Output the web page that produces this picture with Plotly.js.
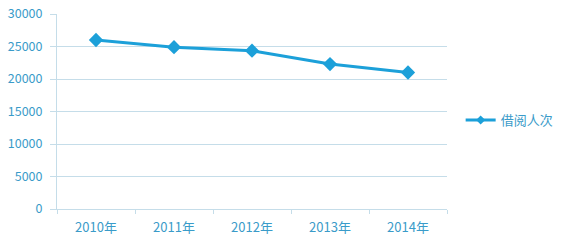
<!DOCTYPE html>
<html><head><meta charset="utf-8">
<script src="https://cdn.plot.ly/plotly-3.0.1.min.js"></script>
<style>html,body{margin:0;padding:0;background:#fff;}#chart{width:563px;height:240px;}</style>
</head><body><div id="chart"></div>
<script>
const categories = ["2010年","2011年","2012年","2013年","2014年"];
const borrowCounts = [26000, 24900, 24350, 22300, 21000];
const seriesName = "借阅人次";
const yTicks = [0,5000,10000,15000,20000,25000,30000];

const lineColor = "#1ca0d9";
const textColor = "#3a9bc9";
const gridColor = "#c5dde9";
const fontFam = "'Noto Sans CJK SC', 'Open Sans', sans-serif";

Plotly.newPlot("chart", [{
  x: categories, y: borrowCounts, name: seriesName, type: "scatter", mode: "lines+markers",
  line: {color: lineColor, width: 3},
  marker: {symbol: "diamond", size: 11, color: lineColor},
  showlegend: false
}, {
  x: [null], y: [null], name: seriesName, type: "scatter", mode: "lines+markers",
  line: {color: lineColor, width: 3},
  marker: {symbol: "diamond", size: 7, color: lineColor},
  showlegend: true
}], {
  width: 563, height: 240,
  margin: {l: 57, r: 116, t: 14, b: 31, autoexpand: false},
  paper_bgcolor: "#fff", plot_bgcolor: "#fff",
  font: {family: fontFam, size: 12.5, color: textColor},
  showlegend: true,
  legend: {x: 1.035, y: 0.456, xanchor: "left", yanchor: "middle", itemwidth: 30, font: {size: 13, color: textColor}, bgcolor: "rgba(0,0,0,0)"},
  xaxis: {type: "category", tickson: "boundaries", ticks: "outside", ticklen: 4, tickcolor: gridColor,
    showline: true, linecolor: gridColor, linewidth: 1, showgrid: false, zeroline: false,
    ticklabelstandoff: 6,
    tickfont: {size: 13, color: textColor}, range: [-0.5, 4.5]},
  yaxis: {range: [0, 30000], tickvals: yTicks, ticktext: yTicks.map(String), ticks: "outside", ticklen: 6, tickcolor: gridColor,
    showline: true, linecolor: gridColor, linewidth: 1, showgrid: true, gridcolor: gridColor, gridwidth: 1,
    ticklabelstandoff: 5,
    zeroline: false, tickfont: {size: 12.5, color: textColor}}
}, {staticPlot: true, displayModeBar: false});
</script></body></html>
